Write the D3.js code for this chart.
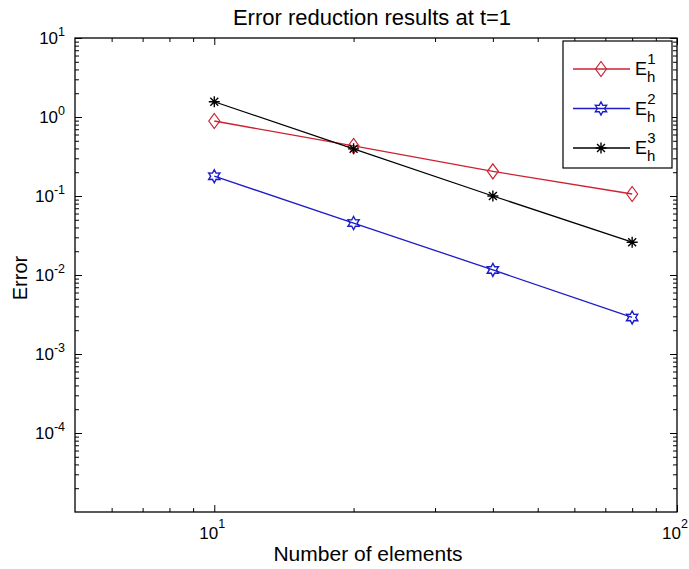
<!DOCTYPE html>
<html>
<head>
<meta charset="utf-8">
<script src="https://cdn.jsdelivr.net/npm/d3@7"></script>
<style>
  body { margin: 0; background: #fff; }
  svg { display: block; font-family: "Liberation Sans", Arial, sans-serif; }
</style>
</head>
<body>
<svg id="chart"></svg>
<script>
// data
const elements = [10, 20, 40, 80];
const errE1 = [0.89, 0.43, 0.205, 0.106];
const errE2 = [0.178, 0.0455, 0.0116, 0.0029];
const errE3 = [1.56, 0.395, 0.1, 0.026];
const seriesNames = ['1', '2', '3'];
const xMajorTicks = [10, 100];
const yMajorTicks = [1e-4, 1e-3, 1e-2, 1e-1, 1, 10];

const W = 689, H = 569;
const margin = {top: 38, right: 12, bottom: 57, left: 75};
const iw = W - margin.left - margin.right;
const ih = H - margin.top - margin.bottom;

const svg = d3.select('#chart').attr('width', W).attr('height', H);
const chart = svg.append('g')
    .attr('transform', `translate(${margin.left}, ${margin.top})`);

const xscale = d3.scaleLog().domain([5, 100]).range([0, iw]);
const yscale = d3.scaleLog().domain([1e-5, 10]).range([ih, 0]);

// minor ticks 2..9 in each decade
function minorTicks(lo, hi) {
    const out = [];
    for (let e = Math.floor(Math.log10(lo)); e < Math.ceil(Math.log10(hi)); e++) {
        for (let m = 2; m <= 9; m++) {
            const v = m * Math.pow(10, e);
            if (v > lo && v < hi) out.push(v);
        }
    }
    return out;
}
const xMinor = minorTicks(5, 100);
const yMinor = minorTicks(1e-5, 10);

const axes = [
    [d3.axisBottom, xscale, `translate(0,${ih})`, xMinor, xMajorTicks],
    [d3.axisTop, xscale, 'translate(0,0)', xMinor, xMajorTicks],
    [d3.axisLeft, yscale, 'translate(0,0)', yMinor, yMajorTicks],
    [d3.axisRight, yscale, `translate(${iw},0)`, yMinor, yMajorTicks]
];
axes.forEach(([mk, sc, tr, minor, major]) => {
    [[minor, -4], [major, -7]].forEach(([vals, size]) => {
        chart.append('g').attr('transform', tr)
            .call(mk(sc).tickValues(vals).tickSize(size).tickSizeOuter(0).tickFormat(''));
    });
});
chart.selectAll('.domain').remove();
chart.selectAll('.tick line').attr('stroke', '#000').attr('stroke-width', 1);

chart.append('rect')
    .attr('width', iw).attr('height', ih)
    .attr('fill', 'none').attr('stroke', '#000').attr('stroke-width', 1.3);

// tick labels as 10^n
function powLabel(g, e, rise) {
    g.append('tspan').text('10');
    g.append('tspan').attr('dy', -rise).style('font-size', '12.5px').text(e);
}
xMajorTicks.forEach(v => {
    const t = chart.append('text')
        .attr('x', xscale(v) - 2).attr('y', ih + 27)
        .attr('text-anchor', 'middle')
        .style('font-size', '17px');
    powLabel(t, Math.round(Math.log10(v)), 11);
});
yMajorTicks.forEach(v => {
    const t = chart.append('text')
        .attr('x', -10).attr('y', yscale(v) + 6)
        .attr('text-anchor', 'end')
        .style('font-size', '17px');
    powLabel(t, Math.round(Math.log10(v)), 8);
});

// titles
svg.append('text')
    .attr('x', margin.left + iw / 2 - 4).attr('y', 25)
    .attr('text-anchor', 'middle')
    .style('font-size', '22px')
    .text('Error reduction results at t=1');
svg.append('text')
    .attr('x', margin.left + iw / 2 - 8).attr('y', 561)
    .attr('text-anchor', 'middle')
    .style('font-size', '21px')
    .text('Number of elements');
svg.append('text')
    .attr('transform', `translate(27, ${margin.top + ih / 2 + 3}) rotate(-90)`)
    .attr('text-anchor', 'middle')
    .style('font-size', '20px')
    .text('Error');

// markers
function diamond(g, color) {
    g.append('path').attr('d', 'M0,-7.5L5.5,0L0,7.5L-5.5,0Z')
        .attr('fill', 'none').attr('stroke', color).attr('stroke-width', 1.2);
}
function hexagram(g, color) {
    const pts = [];
    for (let i = 0; i < 12; i++) {
        const r = i % 2 === 0 ? 6.5 : 3.6;
        const a = -Math.PI / 2 + i * Math.PI / 6;
        pts.push([r * Math.cos(a), r * Math.sin(a)]);
    }
    g.append('path').attr('d', d3.line()(pts) + 'Z')
        .attr('fill', 'none').attr('stroke', color).attr('stroke-width', 1.4);
}
function asterisk(g, color) {
    const r = 5.5, d = r * 0.72;
    g.append('path')
        .attr('d', `M0,${-r}V${r}M${-r},0H${r}M${-d},${-d}L${d},${d}M${-d},${d}L${d},${-d}`)
        .attr('stroke', color).attr('stroke-width', 1.4);
}

const series = [
    {vals: errE1, color: '#cc2230', marker: diamond},
    {vals: errE2, color: '#1c1cc8', marker: hexagram},
    {vals: errE3, color: '#000000', marker: asterisk}
];

const line = d3.line()
    .x(d => xscale(d.x))
    .y(d => yscale(d.y));

series.forEach(s => {
    const pts = elements.map((x, i) => ({x: x, y: s.vals[i]}));
    chart.append('path')
        .attr('d', line(pts))
        .attr('fill', 'none')
        .attr('stroke', s.color)
        .attr('stroke-width', 1.3);
    pts.forEach(p => {
        const g = chart.append('g')
            .attr('transform', `translate(${xscale(p.x)}, ${yscale(p.y)})`);
        s.marker(g, s.color);
    });
});

// legend
const legend = svg.append('g').attr('transform', 'translate(563, 41)');
legend.append('rect')
    .attr('width', 109).attr('height', 127)
    .attr('fill', '#fff').attr('stroke', '#000').attr('stroke-width', 1.2);
series.forEach((s, i) => {
    const y = 28 + i * 39.5;
    legend.append('line')
        .attr('x1', 10).attr('x2', 67).attr('y1', y).attr('y2', y)
        .attr('stroke', s.color).attr('stroke-width', 1.3);
    s.marker(legend.append('g').attr('transform', `translate(38, ${y})`), s.color);
    const t = legend.append('text')
        .attr('x', 72).attr('y', y + 6)
        .style('font-size', '18px');
    t.append('tspan').text('E');
    t.append('tspan').attr('dy', 7).style('font-size', '15px').text('h');
    t.append('tspan').attr('dx', -8).attr('dy', -18).style('font-size', '15px').text(seriesNames[i]);
});
</script>
</body>
</html>
